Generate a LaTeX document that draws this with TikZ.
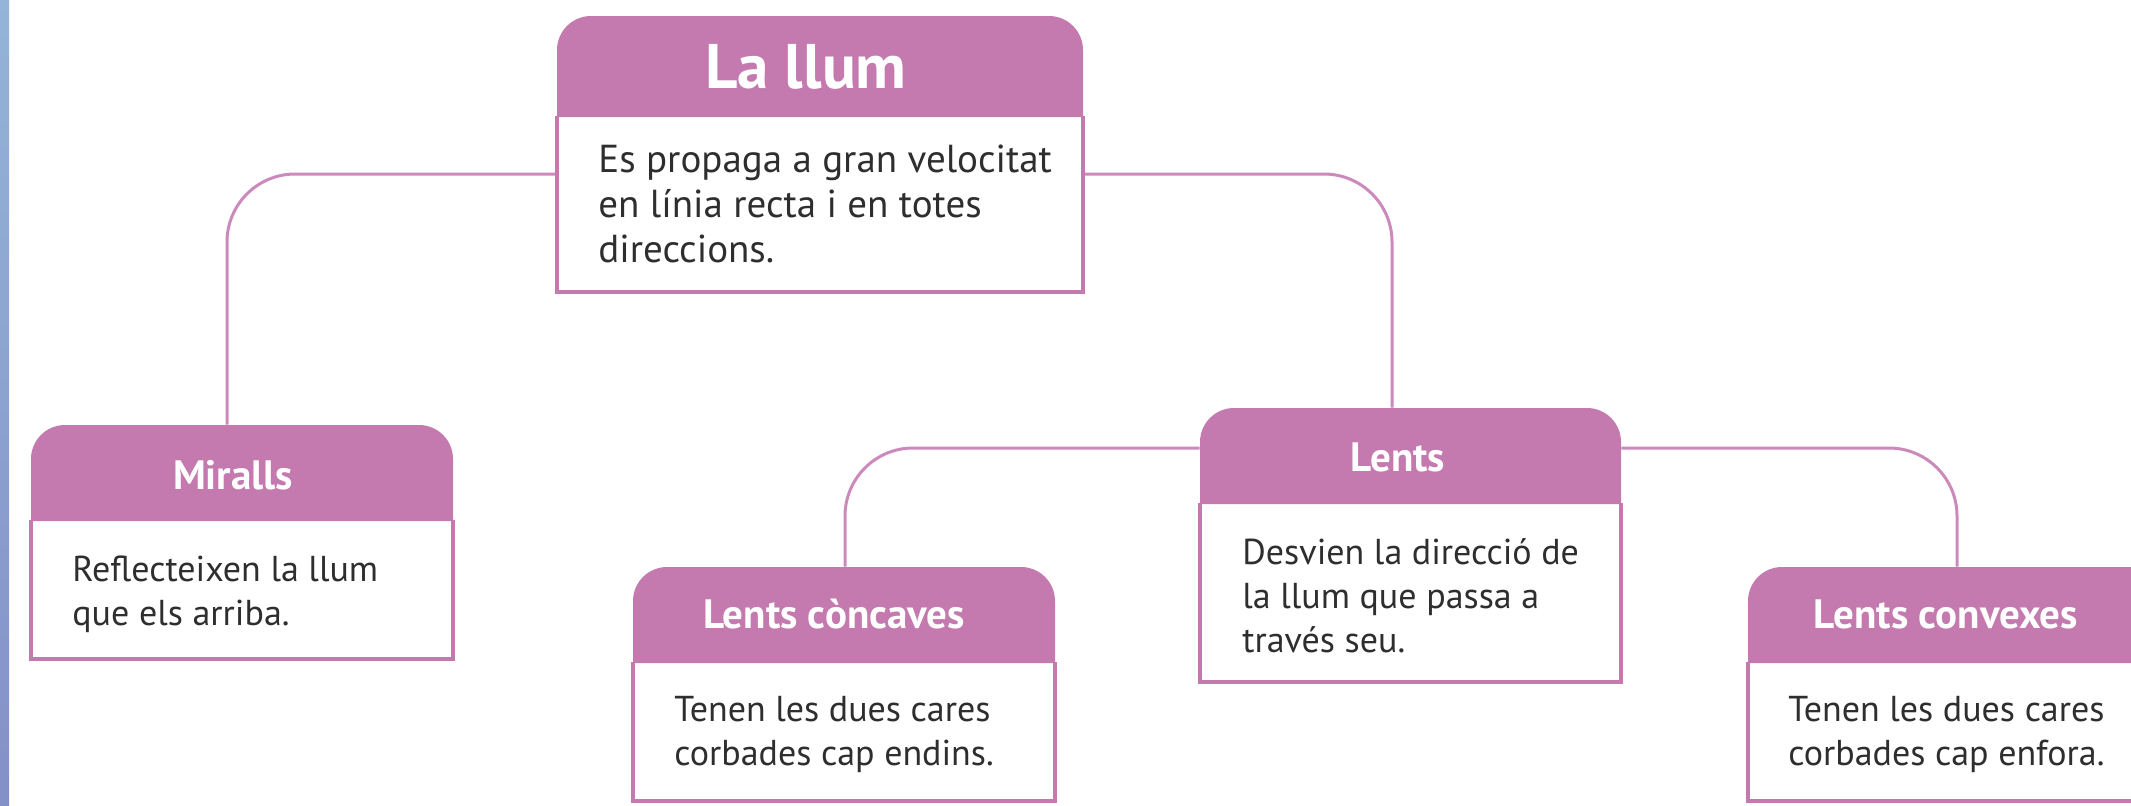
\documentclass[tikz,border=0pt]{standalone}
\usepackage{fontspec}
\setmainfont{PT Sans}
\usetikzlibrary{fit}
\definecolor{hdr}{RGB}{196,122,175}
\definecolor{conncol}{RGB}{204,138,188}
\definecolor{txt}{RGB}{46,46,46}
\definecolor{stripA}{RGB}{148,180,216}
\definecolor{stripB}{RGB}{132,144,200}
\tikzset{
  boxframe/.style={inner sep=0pt, draw=none},
  hdrfill/.style={fill=hdr},
  boxline/.style={draw=hdr, line width=1.7pt, fill=white},
  conn/.style={draw=conncol, line width=1.5pt, rounded corners=34pt},
  titlebig/.style={text=white, font=\bfseries\fontsize{31.5}{36}\selectfont, inner sep=0pt},
  titletext/.style={text=white, font=\bfseries\fontsize{20.5}{24}\selectfont, inner sep=0pt},
  bodytext/.style={text=txt, font=\fontsize{18}{22}\selectfont, align=left, inner sep=0pt, anchor=north west},
  bodybig/.style={bodytext, font=\fontsize{19.5}{22.5}\selectfont}
}
\newcommand{\drawbox}[5]{%
  \fill[white] (#1,#5) rectangle (#3,#4);
  \draw[boxline, fill=none] (#1,#5) -- (#1,#4) -- (#3,#4) -- (#3,#5);
  \fill[hdrfill] (#1,#5+1) -- (#1,#2+34) arc[start angle=180,end angle=90,radius=17pt] -- (#3-34,#2) arc[start angle=90,end angle=0,radius=17pt] -- (#3,#5+1) -- cycle;
}
\begin{document}
\begin{tikzpicture}[x=0.5pt,y=-0.5pt]
\useasboundingbox (0,0) rectangle (2131,805);
\fill[white] (0,0) rectangle (2131,805);
\shade[top color=stripA, bottom color=stripB] (0,0) rectangle (9,805);

% helper coordinates for connector routes
\coordinate (v1) at (227,0);
\coordinate (v2) at (1392,0);
\coordinate (v3) at (845,0);
\coordinate (v4) at (1957,0);
\coordinate (h1) at (0,174);
\coordinate (h2) at (0,448);

% named frames of the boxes
\path (557,16) coordinate (llum-nw) (1083,292) coordinate (llum-se);
\node[boxframe, fit=(llum-nw)(llum-se)] (llum) {};
\path (31,425) coordinate (mir-nw) (453,659) coordinate (mir-se);
\node[boxframe, fit=(mir-nw)(mir-se)] (mir) {};
\path (1200,408) coordinate (lents-nw) (1621,682) coordinate (lents-se);
\node[boxframe, fit=(lents-nw)(lents-se)] (lents) {};
\path (633,567) coordinate (conc-nw) (1055,801) coordinate (conc-se);
\node[boxframe, fit=(conc-nw)(conc-se)] (conc) {};
\path (1748,567) coordinate (conv-nw) (2169,801) coordinate (conv-se);
\node[boxframe, fit=(conv-nw)(conv-se)] (conv) {};

% connectors
\draw[conn] (llum.west |- h1) -| (mir.north -| v1);
\draw[conn] (llum.east |- h1) -| (lents.north -| v2);
\draw[conn] (lents.west |- h2) -| (conc.north -| v3);
\draw[conn] (lents.east |- h2) -| (conv.north -| v4);

% box drawings
\drawbox{557}{16}{1083}{292}{116}
\drawbox{31}{425}{453}{659}{520}
\drawbox{1200}{408}{1621}{682}{503}
\drawbox{633}{567}{1055}{801}{662}
\drawbox{1748}{567}{2169}{801}{662}

% titles
\node[titlebig] (llum-t) at (806,67) {La llum};
\node[titletext] (mir-t) at (233,475) {Miralls};
\node[titletext] (lents-t) at (1398,457) {Lents};
\node[titletext] (conc-t) at (834,614) {Lents còncaves};
\node[titletext] (conv-t) at (1946,614) {Lents convexes};

% body texts
\node[bodybig] (llum-b) at (598,144) {Es propaga a gran velocitat\\en línia recta i en totes\\direccions.};
\node[bodytext] (mir-b) at (72,555) {Reflecteixen la llum\\que els arriba.};
\node[bodytext] (lents-b) at (1242,538) {Desvien la direcció de\\la llum que passa a\\través seu.};
\node[bodytext] (conc-b) at (674,696) {Tenen les dues cares\\corbades cap endins.};
\node[bodytext] (conv-b) at (1788,696) {Tenen les dues cares\\corbades cap enfora.};
\end{tikzpicture}
\end{document}
